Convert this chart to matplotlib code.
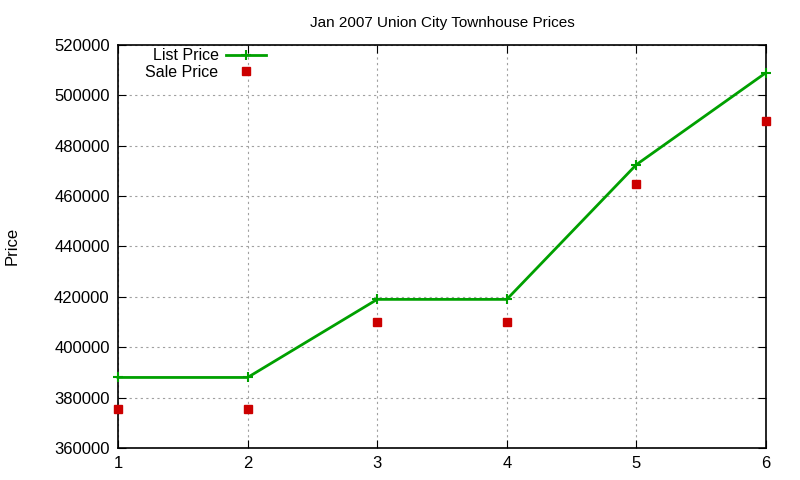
import numpy as np
import matplotlib
matplotlib.use('Agg')
import matplotlib.pyplot as plt

plt.rcParams['font.family'] = ['Liberation Sans', 'DejaVu Sans']

months = [1, 2, 3, 4, 5, 6]
list_price = [388000, 388000, 419000, 419000, 472500, 509000]
sale_price = [375500, 375500, 410000, 410000, 465000, 490000]

fig = plt.figure(figsize=(8, 4.8), dpi=100)
ax = fig.add_axes([0.1475, 0.0667, 0.81, 0.8396])

ax.plot(months, list_price, color='#00a000', lw=2, marker='+', ms=7, mew=1.5,
        label='List Price', clip_on=False, zorder=3)
ax.plot(months, sale_price, color='#cc0000', lw=0, marker='s', ms=6,
        label='Sale Price', clip_on=False, zorder=3)

ax.set_xlim(1, 6)
ax.set_ylim(360000, 520000)
ax.set_xticks(months)
ax.set_yticks(np.arange(360000, 520001, 20000))
ax.tick_params(direction='in', top=True, right=True, labelsize=12, length=6, pad=6)
ax.grid(True, color='#a0a0a0', linestyle=(0, (2, 3)), lw=0.8)
for s in ax.spines.values():
    s.set_linewidth(1.2)

ax.set_title('Jan 2007 Union City Townhouse Prices', fontsize=11, pad=13)
fig.text(0.015, 0.487, 'Price', rotation=90, va='center', ha='center', fontsize=12)

leg = ax.legend(loc='upper left', bbox_to_anchor=(0.03, 1.012), frameon=False,
                markerfirst=False, fontsize=11.5, handlelength=2.5,
                handletextpad=0.45, labelspacing=0.12, borderpad=0.0)
for t in leg.get_texts():
    t.set_ha('right')

fig.savefig('out.png', dpi=100)
